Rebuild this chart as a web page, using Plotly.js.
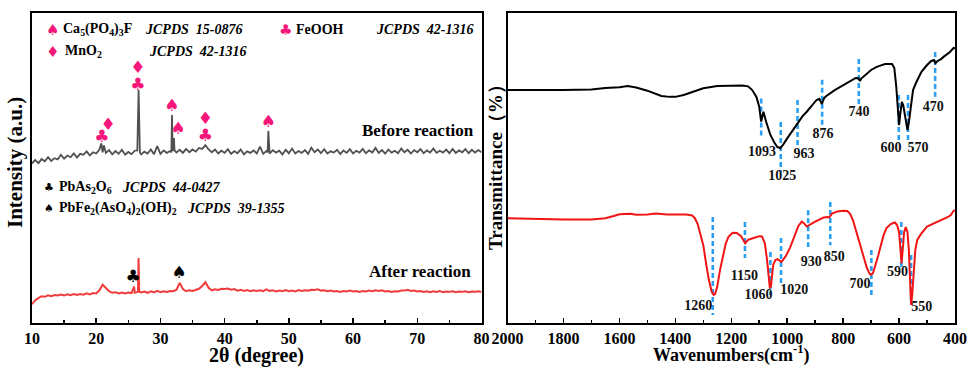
<!DOCTYPE html>
<html><head><meta charset="utf-8">
<script src="https://cdn.plot.ly/plotly-3.0.1.min.js"></script>
<style>html,body{margin:0;padding:0;background:#fff}#c{width:967px;height:367px}</style>
</head><body><div id="c"></div>
<script>
// ---------- XRD (left) : [2theta, intensity a.u.] ----------
const xrdBefore = [[10,51.4],[10.5,52.5],[11,51.5],[11.5,52.8],[12,52.1],[12.5,53.4],[13,52.2],[13.5,53.1],[14,52.7],[14.5,54.2],[15,52.9],[15.5,53.9],[16,53.4],[16.5,54.6],[17,53.3],[17.5,54.5],[18,54.2],[18.5,55.3],[19,54.0],[19.5,55.0],[20,54.6],[20.5,55.9],[20.8,57.9],[21,55.0],[21.2,57.2],[21.5,54.8],[22,55.7],[22.5,54.3],[23,55.4],[23.5,54.5],[24,55.8],[24.5,54.2],[25,55.1],[25.5,54.4],[26,55.5],[26.4,55.6],[26.6,75.1],[26.8,55.0],[27,54.3],[27.5,55.2],[28,54.6],[28.5,55.9],[29,54.4],[29.5,57.0],[30,54.5],[30.5,55.6],[31,54.8],[31.5,55.4],[31.7,55.0],[31.8,67.0],[31.9,55.4],[32,56.0],[32.1,59.6],[32.2,55.6],[32.5,54.9],[33,55.8],[33.5,54.8],[34,56.1],[34.5,55.0],[35,55.9],[35.5,55.2],[36,56.4],[36.5,56.1],[37,57.3],[37.5,55.9],[38,55.0],[38.5,55.9],[39,54.6],[39.5,55.5],[40,54.8],[40.5,56.0],[41,54.5],[41.5,55.4],[42,54.7],[42.5,55.9],[43,54.3],[43.5,55.3],[44,54.8],[44.5,55.6],[45,54.6],[45.5,56.8],[46,54.5],[46.5,55.4],[46.7,55.0],[46.8,61.9],[46.9,55.2],[47,54.6],[47.5,55.7],[48,54.9],[48.5,55.5],[49,54.3],[49.5,55.8],[50,54.7],[50.5,56.2],[51,54.6],[51.5,55.4],[52,54.8],[52.5,55.7],[53,54.5],[53.5,56.5],[54,55.0],[54.5,55.9],[55,54.7],[55.5,56.0],[56,54.6],[56.5,55.3],[57,54.9],[57.5,55.8],[58,54.4],[58.5,55.6],[59,54.8],[59.5,56.0],[60,54.6],[60.5,55.5],[61,54.9],[61.5,56.1],[62,54.7],[62.5,55.6],[63,54.9],[63.5,56.4],[64,54.8],[64.5,55.7],[65,54.6],[65.5,55.9],[66,54.9],[66.5,55.5],[67,54.7],[67.5,56.2],[68,55.0],[68.5,55.8],[69,54.6],[69.5,55.7],[70,55.0],[70.5,56.0],[71,54.7],[71.5,55.6],[72,54.9],[72.5,56.2],[73,54.8],[73.5,55.5],[74,54.9],[74.5,55.9],[75,54.7],[75.5,56.1],[76,54.8],[76.5,55.6],[77,55.0],[77.5,56.0],[78,54.7],[78.5,55.8],[79,54.9],[79.5,55.7],[80,55.0]];

const xrdAfter = [[10,5.9],[10.5,7.2],[11,7.9],[11.5,8.5],[12,8.3],[12.5,8.8],[13,8.5],[13.5,8.9],[14,8.7],[14.5,9.0],[15,8.7],[15.5,9.1],[16,8.8],[16.5,9.2],[17,8.9],[17.5,9.2],[18,9.0],[18.5,9.4],[19,9.1],[19.5,9.5],[20,9.4],[20.5,10.4],[21,12.2],[21.5,11.3],[22,10.1],[22.5,9.6],[23,9.8],[23.5,9.4],[24,9.7],[24.5,9.4],[25,9.7],[25.5,9.5],[25.9,11.6],[26,9.6],[26.5,9.9],[26.6,20.8],[26.7,10.0],[27,9.7],[27.5,10.0],[28,9.6],[28.5,10.1],[29,9.7],[29.5,10.2],[30,9.8],[30.5,10.1],[31,9.9],[31.5,10.2],[32,10.1],[32.5,10.6],[33,12.8],[33.5,10.8],[34,10.1],[34.5,10.4],[35,10.2],[35.5,10.6],[36,10.9],[36.5,11.8],[37,13.0],[37.5,11.2],[38,10.4],[38.5,10.7],[39,10.5],[39.5,10.9],[40,10.8],[40.5,11.0],[41,10.6],[41.5,10.8],[42,10.3],[42.5,10.6],[43,10.2],[43.5,10.5],[44,10.1],[44.5,10.4],[45,10.2],[45.5,10.4],[46,10.1],[46.5,10.7],[47,10.2],[47.5,10.4],[48,10.0],[48.5,10.3],[49,10.1],[49.5,10.5],[50,10.1],[50.5,10.3],[51,10.0],[51.5,10.5],[52,10.2],[52.5,10.4],[53,10.3],[53.5,10.6],[54,10.5],[54.5,10.7],[55,10.3],[55.5,10.4],[56,10.1],[56.5,10.3],[57,10.0],[57.5,10.2],[58,9.9],[58.5,10.2],[59,10.0],[59.5,10.3],[60,10.0],[60.5,10.2],[61,9.9],[61.5,10.2],[62,10.0],[62.5,10.3],[63,10.1],[63.5,10.4],[64,10.2],[64.5,10.4],[65,10.0],[65.5,10.2],[66,9.9],[66.5,10.1],[67,10.0],[67.5,10.3],[68,10.3],[68.5,10.6],[69,10.2],[69.5,10.3],[70,10.0],[70.5,10.2],[71,9.9],[71.5,10.1],[72,9.8],[72.5,10.1],[73,9.9],[73.5,10.2],[74,9.8],[74.5,10.0],[75,9.9],[75.5,10.1],[76,9.8],[76.5,10.0],[77,9.9],[77.5,10.1],[78,9.8],[78.5,10.0],[79,9.9],[79.5,10.1],[80,9.9]];

// phase markers on XRD peaks: [2theta, height, symbol]
const pinkMarkers = [[20.9,59.6,"♣"],[21.85,63.5,"♦"],[26.5,81.9,"♦"],[26.5,76.4,"♣"],[31.8,69.6,"♠"],[32.75,62.2,"♠"],[37.0,65.4,"♦"],[37.0,59.9,"♣"],[46.8,64.7,"♠"]];
const blackMarkers = [[25.75,14.4,"♣"],[32.9,15.7,"♠"]];
const xrdTicks = [10,20,30,40,50,60,70,80];

// ---------- FTIR (right) : [wavenumber, transmittance] ----------
const ftirBefore = [[2000,75.1],[1900,75.0],[1800,75.1],[1750,75.2],[1700,75.3],[1650,75.8],[1600,76.0],[1570,76.4],[1540,75.9],[1500,74.9],[1470,74.0],[1450,73.2],[1420,72.9],[1400,72.9],[1370,73.5],[1350,74.2],[1320,75.1],[1300,75.7],[1250,76.4],[1200,76.6],[1160,76.6],[1140,76.3],[1125,75.1],[1110,72.9],[1100,69.7],[1093,64.9],[1085,68.1],[1075,64.8],[1060,60.6],[1045,58.0],[1035,56.7],[1025,56.3],[1015,57.4],[1000,59.5],[980,62.2],[963,64.4],[945,66.7],[930,68.1],[910,70.4],[895,71.9],[885,72.3],[876,70.6],[868,72.5],[860,73.2],[830,75.1],[800,76.7],[775,78.2],[755,79.0],[745,78.9],[740,78.0],[735,78.8],[720,80.0],[700,81.6],[680,82.6],[650,83.5],[625,83.5],[617,82.2],[610,76.2],[604,68.7],[600,63.8],[596,67.1],[590,71.3],[585,70.2],[580,67.0],[574,63.5],[570,62.2],[565,64.7],[558,70.3],[550,75.1],[540,77.3],[520,81.0],[500,83.2],[485,84.5],[475,84.8],[470,83.8],[462,84.5],[450,85.1],[440,85.9],[420,87.2],[410,88.2],[405,88.7],[400,88.6]];

const ftirAfter = [[2000,33.7],[1900,33.4],[1800,33.3],[1700,33.3],[1650,33.7],[1620,34.4],[1600,35.0],[1560,35.1],[1540,34.8],[1500,34.9],[1470,35.2],[1430,34.9],[1400,35.0],[1360,34.9],[1340,34.6],[1330,33.7],[1320,31.8],[1310,28.8],[1300,25.0],[1290,19.1],[1280,13.7],[1270,10.0],[1263,8.9],[1258,9.2],[1250,11.6],[1240,17.0],[1230,21.3],[1220,25.4],[1210,27.7],[1195,29.0],[1180,28.9],[1165,27.9],[1150,25.6],[1140,26.7],[1120,27.3],[1100,27.9],[1090,27.8],[1080,25.6],[1072,20.2],[1065,13.7],[1062,11.1],[1058,11.8],[1055,13.7],[1050,18.6],[1042,20.2],[1035,20.5],[1020,19.6],[1005,21.5],[990,24.1],[975,27.6],[960,31.2],[948,32.6],[940,32.1],[930,31.0],[915,31.8],[900,32.6],[870,33.9],[855,34.1],[850,33.9],[840,35.2],[820,35.9],[800,36.1],[785,36.0],[775,35.1],[765,33.1],[755,29.9],[745,26.7],[735,23.4],[725,20.2],[715,17.6],[705,15.7],[700,15.4],[693,16.0],[685,18.2],[675,21.5],[665,25.0],[655,28.3],[645,30.5],[630,31.8],[615,32.3],[607,31.5],[600,29.2],[595,23.4],[591,19.1],[587,23.4],[582,29.2],[576,30.8],[570,29.2],[565,23.4],[561,13.7],[557,5.7],[553,8.9],[548,17.0],[542,23.4],[535,26.7],[520,28.8],[500,31.0],[480,31.8],[470,32.2],[455,32.8],[440,33.3],[425,34.1],[415,34.7],[405,36.1],[400,36.2]];

// dashed guide lines: [wavenumber, y from, y to]
const guidesBefore = [[1093,72.4,59.9],[1023,64.8,48.6],[963,71.9,56.7],[875,78.4,63.8],[744,85.1,69.6],[601,73.5,58.3],[568,73.5,58.3],[471,87.4,72.9]];
const guidesAfter = [[1266,34.1,2.4],[1151,32.5,20.8],[1060,22.8,8.9],[1022,27.3,12.1],[925,36.3,24.4],[846,38.9,25.0],[699,23.4,8.2],[592,32.5,17.6],[557,21.8,5.7]];
// peak labels: [text, wavenumber, y]
const labelsBefore = [["1093",1090,54.8],["1025",1018,47.3],["963",940,54.4],["876",872,60.9],["740",743,67.7],["600",629,56.2],["570",532,56.2],["470",478,69.6]];
const labelsAfter = [["1260",1318,5.3],["1150",1153,14.8],["1060",1103,8.6],["1020",975,10.5],["930",914,19.3],["850",832,20.9],["700",740,12.4],["590",606,16.1],["550",519,4.9]];
const ftirTicks = [2000,1800,1600,1400,1200,1000,800,600,400];

// ---------- build ----------
const W = 967, H = 367;
const SERIF = "Liberation Serif, Times New Roman, serif";
const SYM = "DejaVu Sans, sans-serif";
const pink = "#f5177a";
const col = (a,i)=>a.map(p=>p[i]);
function guideTrace(g, xa, ya){
  const x=[], y=[];
  g.forEach(r=>{x.push(r[0],r[0],null); y.push(r[1],r[2],null);});
  return {x, y, xaxis:xa, yaxis:ya, mode:'lines', line:{color:'#2a9ff2', width:2.6, dash:'5px,3px'}, hoverinfo:'skip', showlegend:false};
}
const traces = [
  {x:col(xrdBefore,0), y:col(xrdBefore,1), mode:'lines', line:{color:'#505050', width:1.8}, xaxis:'x', yaxis:'y', showlegend:false},
  {x:col(xrdAfter,0), y:col(xrdAfter,1), mode:'lines', line:{color:'#f03c3c', width:2}, xaxis:'x', yaxis:'y', showlegend:false},
  {x:col(pinkMarkers,0), y:col(pinkMarkers,1), text:col(pinkMarkers,2), mode:'text', textfont:{family:SYM, size:17, color:pink}, xaxis:'x', yaxis:'y', showlegend:false},
  {x:col(blackMarkers,0), y:col(blackMarkers,1), text:col(blackMarkers,2), mode:'text', textfont:{family:SYM, size:17, color:'#000'}, xaxis:'x', yaxis:'y', showlegend:false},
  guideTrace(guidesBefore,'x2','y2'),
  guideTrace(guidesAfter,'x2','y2'),
  {x:col(ftirBefore,0), y:col(ftirBefore,1), mode:'lines', line:{color:'#000', width:2}, xaxis:'x2', yaxis:'y2', showlegend:false},
  {x:col(ftirAfter,0), y:col(ftirAfter,1), mode:'lines', line:{color:'#f01414', width:2}, xaxis:'x2', yaxis:'y2', showlegend:false},
  {x:col(labelsBefore,1), y:col(labelsBefore,2), text:col(labelsBefore,0), mode:'text', textfont:{family:SERIF, size:14, color:'#111', weight:'bold'}, xaxis:'x2', yaxis:'y2', showlegend:false},
  {x:col(labelsAfter,1), y:col(labelsAfter,2), text:col(labelsAfter,0), mode:'text', textfont:{family:SERIF, size:14, color:'#111', weight:'bold'}, xaxis:'x2', yaxis:'y2', showlegend:false}
];

const tickFont = {family:SERIF, size:16, color:'#000', weight:'bold'};
function xax(domain, range, ticks, minorDtick){
  return {domain, range, tickmode:'array', tickvals:ticks, ticktext:ticks.map(String), ticks:'inside', ticklen:5, tickwidth:1.5, tickcolor:'#000',
    minor:{tickmode:'linear', dtick:minorDtick, ticks:'inside', ticklen:3, tickwidth:1.5, tickcolor:'#000'},
    showline:true, linewidth:2, linecolor:'#000', mirror:true, showgrid:false, zeroline:false, tickfont:tickFont, automargin:false, fixedrange:true};
}
function yax(anchor){
  return {domain:[1-322.5/H, 1-13/H], range:[0,100], showticklabels:false, ticks:'', showline:true, linewidth:2, linecolor:'#000', mirror:true, showgrid:false, zeroline:false, anchor, automargin:false, fixedrange:true};
}
const P = (x,y)=>({x:x/W, y:1-y/H, xref:'paper', yref:'paper'});
function ann(text, x, y, o){ return Object.assign(P(x,y), {text, showarrow:false, xanchor:'left', yanchor:'middle', font:{family:SERIF, size:14, color:'#000', weight:'bold'}}, o||{}); }
const symFont = (c,s)=>({family:SYM, size:s, color:c});

const annotations = [
  ann("♠", 44, 30, {font:symFont(pink,15)}),
  ann("Ca<sub>5</sub>(PO<sub>4</sub>)<sub>3</sub>F", 61, 30),
  ann("<i>JCPDS  15-0876</i>", 143, 30),
  ann("♣", 277, 30, {font:symFont(pink,15)}),
  ann("FeOOH", 294, 30),
  ann("<i>JCPDS  42-1316</i>", 374, 30),
  ann("♦", 44, 52, {font:symFont(pink,15)}),
  ann("MnO<sub>2</sub>", 63, 52),
  ann("<i>JCPDS  42-1316</i>", 147, 52),
  ann("♣", 42, 187, {font:symFont('#000',11)}),
  ann("PbAs<sub>2</sub>O<sub>6</sub>", 57, 187),
  ann("<i>JCPDS  44-0427</i>", 120, 187),
  ann("♠", 42, 208, {font:symFont('#000',11)}),
  ann("PbFe<sub>2</sub>(AsO<sub>4</sub>)<sub>2</sub>(OH)<sub>2</sub>", 57, 208),
  ann("<i>JCPDS  39-1355</i>", 185, 208),
  ann("Before reaction", 476, 130, {xanchor:'right', font:{family:SERIF, size:17, color:'#000', weight:'bold'}}),
  ann("After reaction", 473, 271, {xanchor:'right', font:{family:SERIF, size:17, color:'#000', weight:'bold'}}),
  ann("2θ (degree)", 256, 355, {xanchor:'center', font:{family:SERIF, size:20, color:'#000', weight:'bold'}}),
  ann("Wavenumbers(cm<sup>-1</sup>)", 731, 354, {xanchor:'center', font:{family:SERIF, size:18, color:'#000', weight:'bold'}}),
  ann("Intensity (a.u.)", 15, 163, {xanchor:'center', textangle:-90, font:{family:SERIF, size:21, color:'#000', weight:'bold'}}),
  ann("Transmittance（%）", 495, 163, {xanchor:'center', textangle:-90, font:{family:SERIF, size:19, color:'#000', weight:'bold'}})
];

const layout = {
  width:W, height:H, margin:{l:0,r:0,t:0,b:0}, paper_bgcolor:'#fff', plot_bgcolor:'#fff', showlegend:false,
  xaxis: xax([32/W, 481.5/W], [10,80], xrdTicks, 5),
  yaxis: yax('x'),
  xaxis2: Object.assign(xax([507.5/W, 955/W], [2000,400], ftirTicks, 100), {anchor:'y2'}),
  yaxis2: yax('x2'),
  annotations
};
layout.xaxis.anchor = 'y';
Plotly.newPlot('c', traces, layout, {staticPlot:true});
</script></body></html>
